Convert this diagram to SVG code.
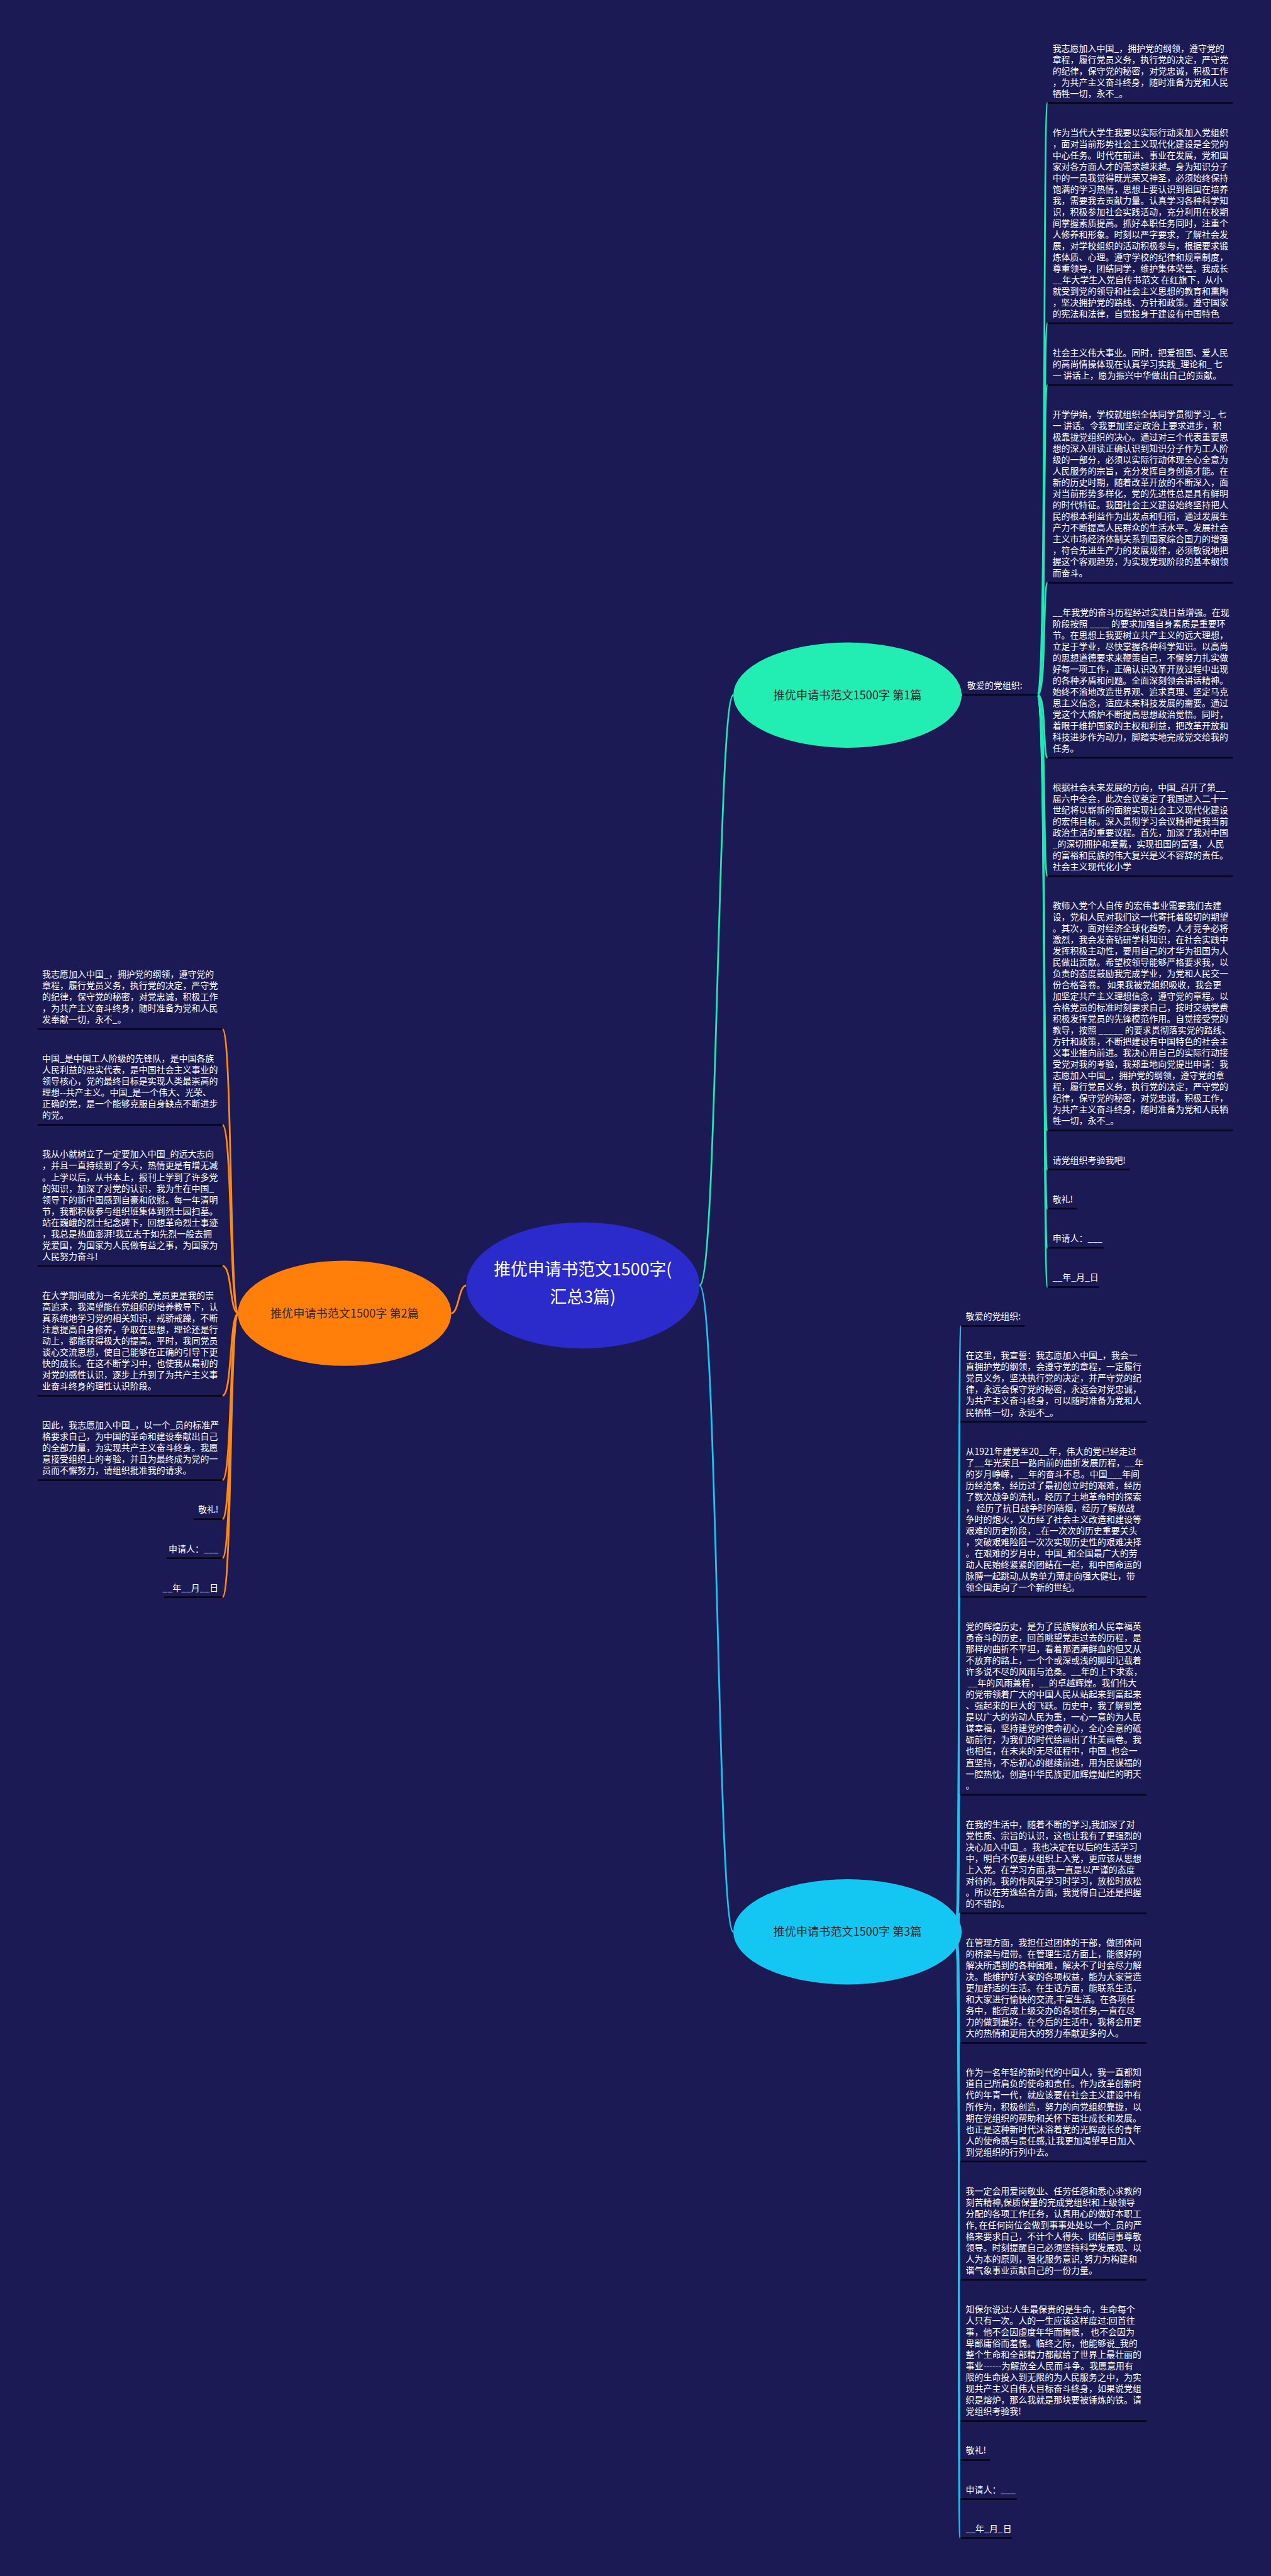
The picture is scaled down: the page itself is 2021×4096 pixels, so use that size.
<svg xmlns="http://www.w3.org/2000/svg" width="2021" height="4096" viewBox="0 0 2021 4096">
<style>
.t{font-family:"Noto Sans CJK SC","Noto Sans",sans-serif;font-size:17.7px;fill:#ffffff}
.ul{stroke:#06061c;stroke-width:3.5;fill:none}
.c1{stroke:#20e8b5;stroke-width:3.5;fill:none}
.c2{stroke:#ff8a18;stroke-width:3.5;fill:none}
.c3{stroke:#1cc4f0;stroke-width:3.5;fill:none}
.nt{font-family:"Noto Sans CJK SC","Noto Sans",sans-serif;font-size:23px;fill:#2a2a2a;text-anchor:middle}
.ct{font-family:"Noto Sans CJK SC","Noto Sans",sans-serif;font-size:34px;fill:#ffffff;text-anchor:middle}
</style>
<rect x="0" y="0" width="2021" height="4096" fill="#1b1a55"/>
<g transform="scale(0.789453)">
<g id="connectors">
<path class="c1" d="M1409,2589 C1445,2589 1445,1400 1477,1400"/>
<path class="c3" d="M1409,2589 C1445,2589 1445,3891 1477,3891"/>
<path class="c2" d="M939,2589 C924,2589 924,2645 909,2645"/>
<path class="c1" d="M1925,1400 L1938,1399.5"/>
<path class="c1" d="M2090,1399.5 C2108,1399.5 2100,207.3 2110,207.3"/>
<path class="c1" d="M2090,1399.5 C2108,1399.5 2100,651 2110,651"/>
<path class="c1" d="M2090,1399.5 C2108,1399.5 2100,775.5 2110,775.5"/>
<path class="c1" d="M2090,1399.5 C2108,1399.5 2100,1173.6 2110,1173.6"/>
<path class="c1" d="M2090,1399.5 C2108,1399.5 2100,1526.1 2110,1526.1"/>
<path class="c1" d="M2090,1399.5 C2108,1399.5 2100,1764.6 2110,1764.6"/>
<path class="c1" d="M2090,1399.5 C2108,1399.5 2100,2276.7 2110,2276.7"/>
<path class="c1" d="M2090,1399.5 C2108,1399.5 2100,2355.6 2110,2355.6"/>
<path class="c1" d="M2090,1399.5 C2108,1399.5 2100,2434.5 2110,2434.5"/>
<path class="c1" d="M2090,1399.5 C2108,1399.5 2100,2513.4 2110,2513.4"/>
<path class="c1" d="M2090,1399.5 C2108,1399.5 2100,2592.3 2110,2592.3"/>
<path class="c2" d="M480,2645 C462,2645 468,2072.7 448,2072.7"/>
<path class="c2" d="M480,2645 C462,2645 468,2265.5 448,2265.5"/>
<path class="c2" d="M480,2645 C462,2645 468,2549.8 448,2549.8"/>
<path class="c2" d="M480,2645 C462,2645 468,2811.2 448,2811.2"/>
<path class="c2" d="M480,2645 C462,2645 468,2981.2 448,2981.2"/>
<path class="c2" d="M480,2645 C462,2645 468,3059.8 448,3059.8"/>
<path class="c2" d="M480,2645 C462,2645 468,3138.4 448,3138.4"/>
<path class="c2" d="M480,2645 C462,2645 468,3217 448,3217"/>
<path class="c3" d="M1924,3891 C1936,3891 1928,2670.7 1936,2670.7"/>
<path class="c3" d="M1924,3891 C1936,3891 1928,2863.5 1934,2863.5"/>
<path class="c3" d="M1924,3891 C1936,3891 1928,3216.4 1934,3216.4"/>
<path class="c3" d="M1924,3891 C1936,3891 1928,3614.9 1934,3614.9"/>
<path class="c3" d="M1924,3891 C1936,3891 1928,3853.4 1934,3853.4"/>
<path class="c3" d="M1924,3891 C1936,3891 1928,4114.8 1934,4114.8"/>
<path class="c3" d="M1924,3891 C1936,3891 1928,4353.4 1934,4353.4"/>
<path class="c3" d="M1924,3891 C1936,3891 1928,4591.9 1934,4591.9"/>
<path class="c3" d="M1924,3891 C1936,3891 1928,4876.2 1934,4876.2"/>
<path class="c3" d="M1924,3891 C1936,3891 1928,4954.8 1934,4954.8"/>
<path class="c3" d="M1924,3891 C1936,3891 1928,5033.4 1934,5033.4"/>
<path class="c3" d="M1924,3891 C1936,3891 1928,5112 1934,5112"/>
</g>

<g id="center">
<ellipse cx="1174" cy="2589" rx="235" ry="127" fill="#2b2bcc"/>
<text class="ct" x="1174" y="2569">推优申请书范文1500字(</text>
<text class="ct" x="1174" y="2625">汇总3篇)</text>
</g>
<g id="node1">
<ellipse cx="1707" cy="1400" rx="230" ry="106" fill="#22edb3"/>
<text class="nt" x="1707" y="1408.5">推优申请书范文1500字 第1篇</text>
</g>
<g id="node2">
<ellipse cx="694" cy="2645" rx="215" ry="106" fill="#ff7f0a"/>
<text class="nt" x="694" y="2653.5">推优申请书范文1500字 第2篇</text>
</g>
<g id="node3">
<ellipse cx="1707" cy="3891" rx="230" ry="106" fill="#14c6f2"/>
<text class="nt" x="1707" y="3899.5">推优申请书范文1500字 第3篇</text>
</g>

<g id="n1-label">
<text class="t" x="1948" y="1386.7">敬爱的党组织:</text>
<line class="ul" x1="1938" y1="1399.5" x2="2090" y2="1399.5"/>
</g>
<g id="n1-a1">
<text class="t" x="2120" y="103.3"><tspan x="2120" dy="0">我志愿加入中国_，拥护党的纲领，遵守党的</tspan><tspan x="2120" dy="22.8">章程，履行党员义务，执行党的决定，严守党</tspan><tspan x="2120" dy="22.8">的纪律，保守党的秘密，对党忠诚，积极工作</tspan><tspan x="2120" dy="22.8">，为共产主义奋斗终身，随时准备为党和人民</tspan><tspan x="2120" dy="22.8">牺牲一切，永不_。</tspan></text>
<line class="ul" x1="2110" y1="207.3" x2="2483" y2="207.3"/>
</g>
<g id="n1-a2">
<text class="t" x="2120" y="273.4"><tspan x="2120" dy="0">作为当代大学生我要以实际行动来加入党组织</tspan><tspan x="2120" dy="22.8">，面对当前形势社会主义现代化建设是全党的</tspan><tspan x="2120" dy="22.8">中心任务。时代在前进、事业在发展，党和国</tspan><tspan x="2120" dy="22.8">家对各方面人才的需求越来越。身为知识分子</tspan><tspan x="2120" dy="22.8">中的一员我觉得既光荣又神圣，必须始终保持</tspan><tspan x="2120" dy="22.8">饱满的学习热情，思想上要认识到祖国在培养</tspan><tspan x="2120" dy="22.8">我，需要我去贡献力量。认真学习各种科学知</tspan><tspan x="2120" dy="22.8">识，积极参加社会实践活动，充分利用在校期</tspan><tspan x="2120" dy="22.8">间掌握素质提高。抓好本职任务同时，注重个</tspan><tspan x="2120" dy="22.8">人修养和形象。时刻以严字要求，了解社会发</tspan><tspan x="2120" dy="22.8">展，对学校组织的活动积极参与，根据要求锻</tspan><tspan x="2120" dy="22.8">炼体质、心理。遵守学校的纪律和规章制度，</tspan><tspan x="2120" dy="22.8">尊重领导，团结同学，维护集体荣誉。我成长</tspan><tspan x="2120" dy="22.8">__年大学生入党自传书范文 在红旗下，从小</tspan><tspan x="2120" dy="22.8">就受到党的领导和社会主义思想的教育和熏陶</tspan><tspan x="2120" dy="22.8">，坚决拥护党的路线、方针和政策。遵守国家</tspan><tspan x="2120" dy="22.8">的宪法和法律，自觉投身于建设有中国特色</tspan></text>
<line class="ul" x1="2110" y1="651" x2="2483" y2="651"/>
</g>
<g id="n1-a3">
<text class="t" x="2120" y="717.1"><tspan x="2120" dy="0">社会主义伟大事业。同时，把爱祖国、爱人民</tspan><tspan x="2120" dy="22.8">的高尚情操体现在认真学习实践_理论和_ 七</tspan><tspan x="2120" dy="22.8">一 讲话上，愿为振兴中华做出自己的贡献。</tspan></text>
<line class="ul" x1="2110" y1="775.5" x2="2483" y2="775.5"/>
</g>
<g id="n1-a4">
<text class="t" x="2120" y="841.6"><tspan x="2120" dy="0">开学伊始，学校就组织全体同学贯彻学习_ 七</tspan><tspan x="2120" dy="22.8">一 讲话。令我更加坚定政治上要求进步，积</tspan><tspan x="2120" dy="22.8">极靠拢党组织的决心。通过对三个代表重要思</tspan><tspan x="2120" dy="22.8">想的深入研读正确认识到知识分子作为工人阶</tspan><tspan x="2120" dy="22.8">级的一部分，必须以实际行动体现全心全意为</tspan><tspan x="2120" dy="22.8">人民服务的宗旨，充分发挥自身创造才能。在</tspan><tspan x="2120" dy="22.8">新的历史时期，随着改革开放的不断深入，面</tspan><tspan x="2120" dy="22.8">对当前形势多样化，党的先进性总是具有鲜明</tspan><tspan x="2120" dy="22.8">的时代特征。我国社会主义建设始终坚持把人</tspan><tspan x="2120" dy="22.8">民的根本利益作为出发点和归宿，通过发展生</tspan><tspan x="2120" dy="22.8">产力不断提高人民群众的生活水平。发展社会</tspan><tspan x="2120" dy="22.8">主义市场经济体制关系到国家综合国力的增强</tspan><tspan x="2120" dy="22.8">，符合先进生产力的发展规律，必须敏锐地把</tspan><tspan x="2120" dy="22.8">握这个客观趋势，为实现党现阶段的基本纲领</tspan><tspan x="2120" dy="22.8">而奋斗。</tspan></text>
<line class="ul" x1="2110" y1="1173.6" x2="2483" y2="1173.6"/>
</g>
<g id="n1-a5">
<text class="t" x="2120" y="1239.7"><tspan x="2120" dy="0">__年我党的奋斗历程经过实践日益增强。在现</tspan><tspan x="2120" dy="22.8">阶段按照 ____ 的要求加强自身素质是重要环</tspan><tspan x="2120" dy="22.8">节。在思想上我要树立共产主义的远大理想，</tspan><tspan x="2120" dy="22.8">立足于学业，尽快掌握各种科学知识。以高尚</tspan><tspan x="2120" dy="22.8">的思想道德要求来鞭策自己，不懈努力扎实做</tspan><tspan x="2120" dy="22.8">好每一项工作，正确认识改革开放过程中出现</tspan><tspan x="2120" dy="22.8">的各种矛盾和问题。全面深刻领会讲话精神。</tspan><tspan x="2120" dy="22.8">始终不渝地改造世界观、追求真理、坚定马克</tspan><tspan x="2120" dy="22.8">思主义信念，适应未来科技发展的需要。通过</tspan><tspan x="2120" dy="22.8">党这个大熔炉不断提高思想政治觉悟。同时，</tspan><tspan x="2120" dy="22.8">着眼于维护国家的主权和利益，把改革开放和</tspan><tspan x="2120" dy="22.8">科技进步作为动力，脚踏实地完成党交给我的</tspan><tspan x="2120" dy="22.8">任务。</tspan></text>
<line class="ul" x1="2110" y1="1526.1" x2="2483" y2="1526.1"/>
</g>
<g id="n1-a6">
<text class="t" x="2120" y="1592.2"><tspan x="2120" dy="0">根据社会未来发展的方向，中国_召开了第__</tspan><tspan x="2120" dy="22.8">届六中全会，此次会议奠定了我国进入二十一</tspan><tspan x="2120" dy="22.8">世纪将以崭新的面貌实现社会主义现代化建设</tspan><tspan x="2120" dy="22.8">的宏伟目标。深入贯彻学习会议精神是我当前</tspan><tspan x="2120" dy="22.8">政治生活的重要议程。首先，加深了我对中国</tspan><tspan x="2120" dy="22.8">_的深切拥护和爱戴，实现祖国的富强，人民</tspan><tspan x="2120" dy="22.8">的富裕和民族的伟大复兴是义不容辞的责任。</tspan><tspan x="2120" dy="22.8">社会主义现代化小学</tspan></text>
<line class="ul" x1="2110" y1="1764.6" x2="2483" y2="1764.6"/>
</g>
<g id="n1-a7">
<text class="t" x="2120" y="1830.7"><tspan x="2120" dy="0">教师入党个人自传 的宏伟事业需要我们去建</tspan><tspan x="2120" dy="22.8">设，党和人民对我们这一代寄托着殷切的期望</tspan><tspan x="2120" dy="22.8">。其次，面对经济全球化趋势，人才竞争必将</tspan><tspan x="2120" dy="22.8">激烈，我会发奋钻研学科知识，在社会实践中</tspan><tspan x="2120" dy="22.8">发挥积极主动性，要用自己的才华为祖国为人</tspan><tspan x="2120" dy="22.8">民做出贡献。希望校领导能够严格要求我，以</tspan><tspan x="2120" dy="22.8">负责的态度鼓励我完成学业，为党和人民交一</tspan><tspan x="2120" dy="22.8">份合格答卷。 如果我被党组织吸收，我会更</tspan><tspan x="2120" dy="22.8">加坚定共产主义理想信念，遵守党的章程。以</tspan><tspan x="2120" dy="22.8">合格党员的标准时刻要求自己，按时交纳党费</tspan><tspan x="2120" dy="22.8">积极发挥党员的先锋模范作用。自觉接受党的</tspan><tspan x="2120" dy="22.8">教导，按照 _____ 的要求贯彻落实党的路线、</tspan><tspan x="2120" dy="22.8">方针和政策，不断把建设有中国特色的社会主</tspan><tspan x="2120" dy="22.8">义事业推向前进。我决心用自己的实际行动接</tspan><tspan x="2120" dy="22.8">受党对我的考验，我郑重地向党提出申请：我</tspan><tspan x="2120" dy="22.8">志愿加入中国_，拥护党的纲领，遵守党的章</tspan><tspan x="2120" dy="22.8">程，履行党员义务，执行党的决定，严守党的</tspan><tspan x="2120" dy="22.8">纪律，保守党的秘密，对党忠诚，积极工作，</tspan><tspan x="2120" dy="22.8">为共产主义奋斗终身，随时准备为党和人民牺</tspan><tspan x="2120" dy="22.8">牲一切，永不_。</tspan></text>
<line class="ul" x1="2110" y1="2276.7" x2="2483" y2="2276.7"/>
</g>
<g id="n1-a8">
<text class="t" x="2120" y="2342.8">请党组织考验我吧!</text>
<line class="ul" x1="2110" y1="2355.6" x2="2276" y2="2355.6"/>
</g>
<g id="n1-a9">
<text class="t" x="2120" y="2421.7">敬礼!</text>
<line class="ul" x1="2110" y1="2434.5" x2="2169" y2="2434.5"/>
</g>
<g id="n1-a10">
<text class="t" x="2120" y="2500.6">申请人：___</text>
<line class="ul" x1="2110" y1="2513.4" x2="2223" y2="2513.4"/>
</g>
<g id="n1-a11">
<text class="t" x="2120" y="2579.5">__年_月_日</text>
<line class="ul" x1="2110" y1="2592.3" x2="2214" y2="2592.3"/>
</g>

<g id="n2-b1">
<text class="t" x="85" y="1968.5"><tspan x="85" dy="0">我志愿加入中国_，拥护党的纲领，遵守党的</tspan><tspan x="85" dy="22.85">章程，履行党员义务，执行党的决定，严守党</tspan><tspan x="85" dy="22.85">的纪律，保守党的秘密，对党忠诚，积极工作</tspan><tspan x="85" dy="22.85">，为共产主义奋斗终身，随时准备为党和人民</tspan><tspan x="85" dy="22.85">发奉献一切，永不_。</tspan></text>
<line class="ul" x1="76" y1="2072.7" x2="448" y2="2072.7"/>
</g>
<g id="n2-b2">
<text class="t" x="85" y="2138.5"><tspan x="85" dy="0">中国_是中国工人阶级的先锋队，是中国各族</tspan><tspan x="85" dy="22.85">人民利益的忠实代表，是中国社会主义事业的</tspan><tspan x="85" dy="22.85">领导核心，党的最终目标是实现人类最崇高的</tspan><tspan x="85" dy="22.85">理想--共产主义。中国_是一个伟大、光荣、</tspan><tspan x="85" dy="22.85">正确的党，是一个能够克服自身缺点不断进步</tspan><tspan x="85" dy="22.85">的党。</tspan></text>
<line class="ul" x1="76" y1="2265.5" x2="448" y2="2265.5"/>
</g>
<g id="n2-b3">
<text class="t" x="85" y="2331.3"><tspan x="85" dy="0">我从小就树立了一定要加入中国_的远大志向</tspan><tspan x="85" dy="22.85">，并且一直持续到了今天，热情更是有增无减</tspan><tspan x="85" dy="22.85">。上学以后，从书本上，报刊上学到了许多党</tspan><tspan x="85" dy="22.85">的知识，加深了对党的认识，我为生在中国_</tspan><tspan x="85" dy="22.85">领导下的新中国感到自豪和欣慰。每一年清明</tspan><tspan x="85" dy="22.85">节，我都积极参与组织班集体到烈士园扫墓。</tspan><tspan x="85" dy="22.85">站在巍峨的烈士纪念碑下，回想革命烈士事迹</tspan><tspan x="85" dy="22.85">，我总是热血澎湃!我立志于如先烈一般去拥</tspan><tspan x="85" dy="22.85">党爱国，为国家为人民做有益之事，为国家为</tspan><tspan x="85" dy="22.85">人民努力奋斗!</tspan></text>
<line class="ul" x1="76" y1="2549.8" x2="448" y2="2549.8"/>
</g>
<g id="n2-b4">
<text class="t" x="85" y="2615.6"><tspan x="85" dy="0">在大学期间成为一名光荣的_党员更是我的崇</tspan><tspan x="85" dy="22.85">高追求，我渴望能在党组织的培养教导下，认</tspan><tspan x="85" dy="22.85">真系统地学习党的相关知识，戒骄戒躁，不断</tspan><tspan x="85" dy="22.85">注意提高自身修养，争取在思想，理论还是行</tspan><tspan x="85" dy="22.85">动上，都能获得极大的提高。平时，我同党员</tspan><tspan x="85" dy="22.85">谈心交流思想，使自己能够在正确的引导下更</tspan><tspan x="85" dy="22.85">快的成长。在这不断学习中，也使我从最初的</tspan><tspan x="85" dy="22.85">对党的感性认识，逐步上升到了为共产主义事</tspan><tspan x="85" dy="22.85">业奋斗终身的理性认识阶段。</tspan></text>
<line class="ul" x1="76" y1="2811.2" x2="448" y2="2811.2"/>
</g>
<g id="n2-b5">
<text class="t" x="85" y="2877"><tspan x="85" dy="0">因此，我志愿加入中国_，以一个_员的标准严</tspan><tspan x="85" dy="22.85">格要求自己，为中国的革命和建设奉献出自己</tspan><tspan x="85" dy="22.85">的全部力量，为实现共产主义奋斗终身。我愿</tspan><tspan x="85" dy="22.85">意接受组织上的考验，并且为最终成为党的一</tspan><tspan x="85" dy="22.85">员而不懈努力，请组织批准我的请求。</tspan></text>
<line class="ul" x1="76" y1="2981.2" x2="448" y2="2981.2"/>
</g>
<g id="n2-b6">
<text class="t" x="440" y="3047" text-anchor="end">敬礼!</text>
<line class="ul" x1="390" y1="3059.8" x2="448" y2="3059.8"/>
</g>
<g id="n2-b7">
<text class="t" x="440" y="3125.6" text-anchor="end">申请人：___</text>
<line class="ul" x1="336" y1="3138.4" x2="448" y2="3138.4"/>
</g>
<g id="n2-b8">
<text class="t" x="440" y="3204.2" text-anchor="end">__年__月__日</text>
<line class="ul" x1="331" y1="3217" x2="448" y2="3217"/>
</g>

<g id="n3-c0">
<text class="t" x="1945" y="2657.9">敬爱的党组织:</text>
<line class="ul" x1="1936" y1="2670.7" x2="2064" y2="2670.7"/>
</g>
<g id="n3-c1">
<text class="t" x="1945" y="2736.5"><tspan x="1945" dy="0">在这里，我宣誓：我志愿加入中国_，我会一</tspan><tspan x="1945" dy="22.85">直拥护党的纲领，会遵守党的章程，一定履行</tspan><tspan x="1945" dy="22.85">党员义务，坚决执行党的决定，并严守党的纪</tspan><tspan x="1945" dy="22.85">律，永远会保守党的秘密，永远会对党忠诚，</tspan><tspan x="1945" dy="22.85">为共产主义奋斗终身，可以随时准备为党和人</tspan><tspan x="1945" dy="22.85">民牺牲一切，永远不_。</tspan></text>
<line class="ul" x1="1934" y1="2863.5" x2="2309" y2="2863.5"/>
</g>
<g id="n3-c2">
<text class="t" x="1945" y="2929.3"><tspan x="1945" dy="0">从1921年建党至20__年，伟大的党已经走过</tspan><tspan x="1945" dy="22.85">了__年光荣且一路向前的曲折发展历程，__年</tspan><tspan x="1945" dy="22.85">的岁月峥嵘，__年的奋斗不息。中国___年间</tspan><tspan x="1945" dy="22.85">历经沧桑，经历过了最初创立时的艰难，经历</tspan><tspan x="1945" dy="22.85">了数次战争的洗礼，经历了土地革命时的探索</tspan><tspan x="1945" dy="22.85">， 经历了抗日战争时的硝烟，经历了解放战</tspan><tspan x="1945" dy="22.85">争时的炮火，又历经了社会主义改造和建设等</tspan><tspan x="1945" dy="22.85">艰难的历史阶段，_在一次次的历史重要关头</tspan><tspan x="1945" dy="22.85">，突破艰难险阻一次次实现历史性的艰难决择</tspan><tspan x="1945" dy="22.85">。在艰难的岁月中，中国_和全国最广大的劳</tspan><tspan x="1945" dy="22.85">动人民始终紧紧的团结在一起，和中国命运的</tspan><tspan x="1945" dy="22.85">脉膊一起跳动,从势单力薄走向强大健壮，带</tspan><tspan x="1945" dy="22.85">领全国走向了一个新的世纪。</tspan></text>
<line class="ul" x1="1934" y1="3216.4" x2="2309" y2="3216.4"/>
</g>
<g id="n3-c3">
<text class="t" x="1945" y="3282.1"><tspan x="1945" dy="0">党的辉煌历史，是为了民族解放和人民幸福英</tspan><tspan x="1945" dy="22.85">勇奋斗的历史，回首眺望党走过去的历程，是</tspan><tspan x="1945" dy="22.85">那样的曲折不平坦，看着那洒满鲜血的但又从</tspan><tspan x="1945" dy="22.85">不放弃的路上，一个个或深或浅的脚印记载着</tspan><tspan x="1945" dy="22.85">许多说不尽的风雨与沧桑。__年的上下求索，</tspan><tspan x="1945" dy="22.85"> __年的风雨兼程，__的卓越辉煌。我们伟大</tspan><tspan x="1945" dy="22.85">的党带领着广大的中国人民从站起来到富起来</tspan><tspan x="1945" dy="22.85">、强起来的巨大的飞跃。历史中，我了解到党</tspan><tspan x="1945" dy="22.85">是以广大的劳动人民为重，一心一意的为人民</tspan><tspan x="1945" dy="22.85">谋幸福，坚持建党的使命初心，全心全意的砥</tspan><tspan x="1945" dy="22.85">砺前行，为我们的时代绘画出了壮美画卷。我</tspan><tspan x="1945" dy="22.85">也相信，在未来的无尽征程中，中国_也会一</tspan><tspan x="1945" dy="22.85">直坚持，不忘初心的继续前进，用为民谋福的</tspan><tspan x="1945" dy="22.85">一腔热忱，创造中华民族更加辉煌灿烂的明天</tspan><tspan x="1945" dy="22.85">。</tspan></text>
<line class="ul" x1="1934" y1="3614.9" x2="2309" y2="3614.9"/>
</g>
<g id="n3-c4">
<text class="t" x="1945" y="3680.6"><tspan x="1945" dy="0">在我的生活中，随着不断的学习,我加深了对</tspan><tspan x="1945" dy="22.85">党性质、宗旨的认识，这也让我有了更强烈的</tspan><tspan x="1945" dy="22.85">决心加入中国_。我也决定在以后的生活学习</tspan><tspan x="1945" dy="22.85">中，明白不仅要从组织上入党，更应该从思想</tspan><tspan x="1945" dy="22.85">上入党。在学习方面,我一直是以严谨的态度</tspan><tspan x="1945" dy="22.85">对待的。我的作风是学习时学习，放松时放松</tspan><tspan x="1945" dy="22.85">。所以在劳逸结合方面，我觉得自己还是把握</tspan><tspan x="1945" dy="22.85">的不错的。</tspan></text>
<line class="ul" x1="1934" y1="3853.4" x2="2309" y2="3853.4"/>
</g>
<g id="n3-c5">
<text class="t" x="1945" y="3919.2"><tspan x="1945" dy="0">在管理方面，我担任过团体的干部，做团体间</tspan><tspan x="1945" dy="22.85">的桥梁与纽带。在管理生活方面上，能很好的</tspan><tspan x="1945" dy="22.85">解决所遇到的各种困难，解决不了时会尽力解</tspan><tspan x="1945" dy="22.85">决。能维护好大家的各项权益，能为大家营造</tspan><tspan x="1945" dy="22.85">更加舒适的生活。在生话方面，能联系生活，</tspan><tspan x="1945" dy="22.85">和大家进行愉快的交流,丰富生活。在各项任</tspan><tspan x="1945" dy="22.85">务中，能完成上级交办的各项任务,一直在尽</tspan><tspan x="1945" dy="22.85">力的做到最好。在今后的生活中，我将会用更</tspan><tspan x="1945" dy="22.85">大的热情和更用大的努力奉献更多的人。</tspan></text>
<line class="ul" x1="1934" y1="4114.8" x2="2309" y2="4114.8"/>
</g>
<g id="n3-c6">
<text class="t" x="1945" y="4180.6"><tspan x="1945" dy="0">作为一名年轻的新时代的中国人，我一直都知</tspan><tspan x="1945" dy="22.85">道自己所肩负的使命和责任。作为改革创新时</tspan><tspan x="1945" dy="22.85">代的年青一代，就应该要在社会主义建设中有</tspan><tspan x="1945" dy="22.85">所作为，积极创造，努力的向党组织靠拢，以</tspan><tspan x="1945" dy="22.85">期在党组织的帮助和关怀下茁壮成长和发展。</tspan><tspan x="1945" dy="22.85">也正是这种新时代沐浴着党的光辉成长的青年</tspan><tspan x="1945" dy="22.85">人的使命感与责任感,让我更加渴望早日加入</tspan><tspan x="1945" dy="22.85">到党组织的行列中去。</tspan></text>
<line class="ul" x1="1934" y1="4353.4" x2="2309" y2="4353.4"/>
</g>
<g id="n3-c7">
<text class="t" x="1945" y="4419.2"><tspan x="1945" dy="0">我一定会用爱岗敬业、任劳任怨和悉心求教的</tspan><tspan x="1945" dy="22.85">刻苦精神,保质保量的完成党组织和上级领导</tspan><tspan x="1945" dy="22.85">分配的各项工作任务，认真用心的做好本职工</tspan><tspan x="1945" dy="22.85">作, 在任何岗位会做到事事处处以一个_员的严</tspan><tspan x="1945" dy="22.85">格来要求自己，不计个人得失、团结同事尊敬</tspan><tspan x="1945" dy="22.85">领导。时刻提醒自己必须坚持科学发展观、以</tspan><tspan x="1945" dy="22.85">人为本的原则，强化服务意识, 努力为构建和</tspan><tspan x="1945" dy="22.85">谐气象事业贡献自己的一份力量。</tspan></text>
<line class="ul" x1="1934" y1="4591.9" x2="2309" y2="4591.9"/>
</g>
<g id="n3-c8">
<text class="t" x="1945" y="4657.7"><tspan x="1945" dy="0">知保尔说过:人生最保贵的是生命，生命每个</tspan><tspan x="1945" dy="22.85">人只有一次。人的一生应该这样度过:回首往</tspan><tspan x="1945" dy="22.85">事，他不会因虚度年华而悔恨， 也不会因为</tspan><tspan x="1945" dy="22.85">卑鄙庸俗而羞愧。临终之际，他能够说_我的</tspan><tspan x="1945" dy="22.85">整个生命和全部精力都献给了世界上最壮丽的</tspan><tspan x="1945" dy="22.85">事业------为解放全人民而斗争。我愿意用有</tspan><tspan x="1945" dy="22.85">限的生命投入到无限的为人民服务之中，为实</tspan><tspan x="1945" dy="22.85">现共产主义自伟大目标奋斗终身，如果说党组</tspan><tspan x="1945" dy="22.85">织是熔炉，那么我就是那块要被锤炼的铁。请</tspan><tspan x="1945" dy="22.85">党组织考验我!</tspan></text>
<line class="ul" x1="1934" y1="4876.2" x2="2309" y2="4876.2"/>
</g>
<g id="n3-c9">
<text class="t" x="1945" y="4942">敬礼!</text>
<line class="ul" x1="1934" y1="4954.8" x2="1994" y2="4954.8"/>
</g>
<g id="n3-c10">
<text class="t" x="1945" y="5020.6">申请人：___</text>
<line class="ul" x1="1934" y1="5033.4" x2="2048" y2="5033.4"/>
</g>
<g id="n3-c11">
<text class="t" x="1945" y="5099.2">__年_月_日</text>
<line class="ul" x1="1934" y1="5112" x2="2038" y2="5112"/>
</g>
</g>
</svg>
